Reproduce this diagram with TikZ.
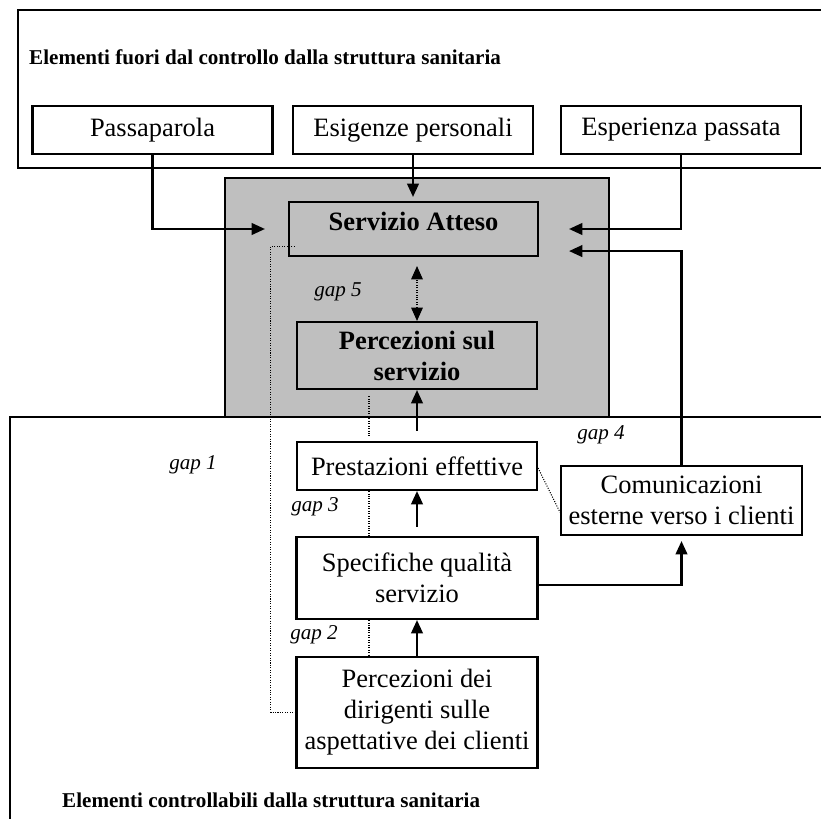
\documentclass[tikz,border=0pt]{standalone}
\usepackage{fontspec}
\setmainfont{Liberation Serif}
\usepackage{tikz}
\usetikzlibrary{arrows.meta,positioning}

\begin{document}
\begin{tikzpicture}[
    x=0.03cm,y=-0.03cm,
    box/.style={draw,line width=1.8pt,align=center,minimum width=7.2cm,
                minimum height=1.44cm,inner sep=1pt,fill=white,
                font=\fontsize{22.6}{26.4}\selectfont},
    core/.style={box,fill=black!25,font=\fontsize{22.6}{26.4}\selectfont\bfseries},
    title/.style={anchor=west,inner sep=0pt,font=\fontsize{18}{21}\selectfont\bfseries},
    gaplabel/.style={inner sep=0pt,font=\fontsize{18}{21}\selectfont\itshape},
    frame/.style={line width=1.3pt},
    arrow/.style={-{Triangle[length=4mm,width=3.5mm]},line width=1.8pt},
    twoway/.style={{Triangle[length=4mm,width=3.5mm]}-{Triangle[length=4mm,width=3.5mm]},
                   line width=0.9pt,dash pattern=on 0.9pt off 1.2pt},
    gapline/.style={line width=0.9pt,dash pattern=on 0.9pt off 1.2pt}
]
\useasboundingbox (0,0) rectangle (821,818);

\draw[frame] (821,10) -- (18,10) -- (18,168) -- (821,168);
\draw[line width=1.6pt,fill=black!25] (225,178) rectangle (609,417);
\draw[frame] (821,417) -- (10,417) -- (10,820);

\node[title] (outside) at (29,57) {Elementi fuori dal controllo dalla struttura sanitaria};
\node[title] (inside) at (62,800) {Elementi controllabili dalla struttura sanitaria};

\node[box] (pass) at (152.5,130) {Passaparola};
\node[box] (esig) at (413,130) {Esigenze personali};
\node[box] (esper) at (681,130) {Esperienza passata};
\node[core,minimum width=7.47cm,text height=0.84cm,text depth=0.78cm,inner ysep=0pt]
    (atteso) at (413.5,229) {Servizio Atteso};
\node[core,minimum height=2.01cm] (perc) at (417,355.5) {Percezioni sul\\servizio};
\node[box] (prest) at (417,466) {Prestazioni effettive};
\node[box,minimum width=7.23cm,minimum height=2.07cm] (com) at (681.5,500.5)
    {Comunicazioni\\esterne verso i clienti};
\node[box,minimum width=7.23cm,minimum height=2.46cm] (spec) at (417,578)
    {Specifiche qualità\\servizio};
\node[box,minimum width=7.23cm,minimum height=3.33cm] (dir) at (417,712.5)
    {Percezioni dei\\dirigenti sulle\\aspettative dei clienti};

\node[gaplabel] (gap1) at (193,465) {gap 1};
\node[gaplabel] (gap2) at (314,635) {gap 2};
\node[gaplabel] (gap3) at (315,507) {gap 3};
\node[gaplabel] (gap4) at (601,435) {gap 4};
\node[gaplabel] (gap5) at (338,292) {gap 5};

\draw[arrow,shorten >=0.69cm] (pass.south) |- (atteso.west);
\draw[arrow,shorten >=0.12cm] (esig.south) -- (esig.south |- atteso.north);
\draw[arrow,shorten >=0.9cm] (esper.south) |- (atteso.east);
\draw[arrow,shorten >=0.9cm] (com.north) |- ([yshift=0.18cm]atteso.south east);
\draw[twoway,shorten >=0.27cm] (perc.north) -- (perc.north |- atteso.south);
\draw[arrow,shorten <=0.3cm] (prest.north) -- (perc.south);
\draw[arrow,shorten <=0.27cm] (spec.north) -- (prest.south);
\draw[arrow] (dir.north) -- (spec.south);
\draw[arrow,shorten >=0.15cm] ([yshift=-0.21cm]spec.east) -| (com.south);

\draw[gapline] ([shift={(7,-11)}]atteso.south west) -- ++(-24,0) |- (dir.west);
\draw[gapline,shorten <=0.18cm,shorten >=0.12cm] ([xshift=-1.44cm]perc.south)
    -- ([xshift=-1.44cm]prest.north);
\draw[gapline] ([xshift=-1.44cm]prest.south) -- ([xshift=-1.44cm]spec.north);
\draw[gapline] ([xshift=-1.44cm]spec.south) -- ([xshift=-1.44cm]dir.north);
\draw[gapline] ([yshift=-0.06cm]prest.east) -- ([yshift=-0.35cm]com.west);
\end{tikzpicture}
\end{document}
